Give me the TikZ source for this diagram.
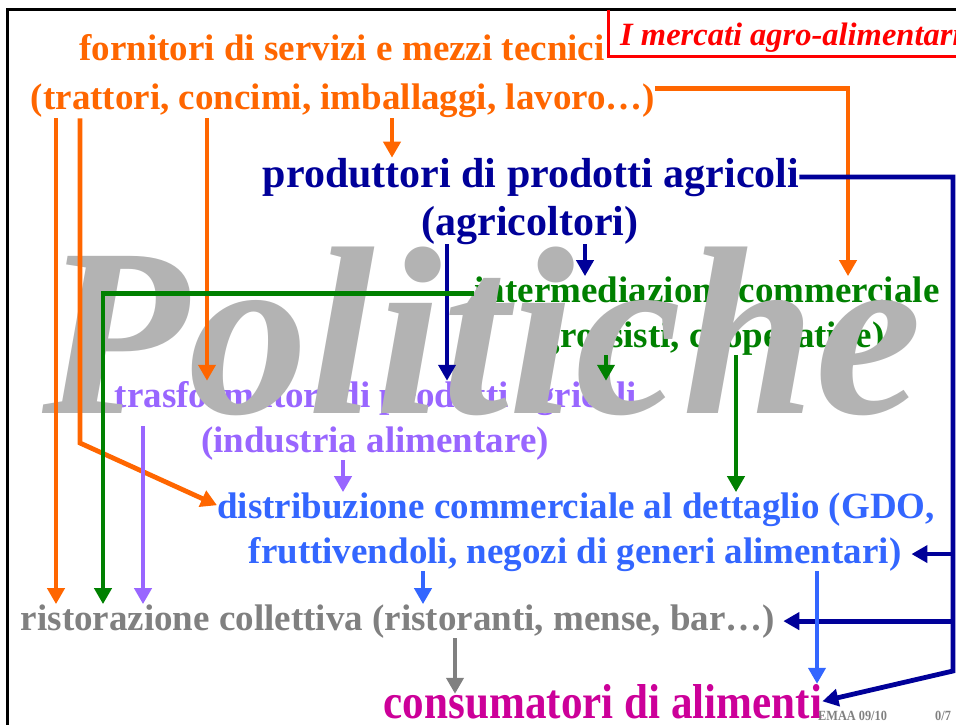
\documentclass[tikz,border=0pt]{standalone}
\usepackage{fontspec}
\setmainfont{Liberation Serif}
\newfontfamily\narrowserif[FakeStretch=0.88]{Liberation Serif}
\usetikzlibrary{arrows.meta}
\definecolor{fornorange}{HTML}{FF6600}
\definecolor{prodnavy}{HTML}{000099}
\definecolor{intergreen}{HTML}{008000}
\definecolor{trasfpurple}{HTML}{9966FF}
\definecolor{distrblue}{HTML}{3366FF}
\definecolor{ristgray}{HTML}{808080}
\definecolor{consmagenta}{HTML}{CC0099}
\definecolor{watergray}{HTML}{B3B3B3}

\begin{document}
\begin{tikzpicture}[x=1pt,y=-1pt,
        txt/.style={anchor=base,inner sep=0pt,font=\bfseries\fontsize{37}{44}\selectfont},
        bigtxt/.style={anchor=base,inner sep=0pt,font=\bfseries\fontsize{42}{48}\selectfont},
        flow/.style={line width=4.8pt,-{Triangle[length=16pt,width=17pt]}}]
        \useasboundingbox (0,0) rectangle (956,725);
        \clip (0,0) rectangle (956,725);
        % draw the frame of the slide
        \draw[line width=3pt] (7,730) -- (7,10) -- (960,10);
        \draw[red,line width=3pt] (608,10) -- (608,57) -- (960,57);
        \node[anchor=base west,inner sep=0pt,red,font=\bfseries\itshape\fontsize{32.5}{36}\selectfont] (title) at (620,46) {I mercati agro-alimentari};
        % draw nodes for the actors
        \node[txt,fornorange] (forn1) at (342,61) {fornitori di servizi e mezzi tecnici};
        \node[txt,fornorange] (forn2) at (343,110) {(trattori, concimi, imballaggi, lavoro\ldots)};
        \node[bigtxt,prodnavy] (prod1) at (531,187) {produttori di prodotti agricoli};
        \node[bigtxt,prodnavy] (prod2) at (530,235) {(agricoltori)};
        \node[txt,intergreen] (inter1) at (707,302) {intermediazione commerciale};
        \node[txt,intergreen] (inter2) at (707,347) {(grossisti, cooperative)};
        \node[txt,trasfpurple] (trasf1) at (376,407) {trasformatori di prodotti agricoli};
        \node[txt,trasfpurple] (trasf2) at (375,452) {(industria alimentare)};
        \node[txt,distrblue] (distr1) at (576,518) {distribuzione commerciale al dettaglio (GDO,};
        \node[txt,distrblue] (distr2) at (575,563) {fruttivendoli, negozi di generi alimentari)};
        \node[txt,ristgray] (rist) at (398,630) {ristorazione collettiva (ristoranti, mense, bar\ldots)};
        \node[anchor=base,inner sep=0pt,consmagenta,font=\narrowserif\bfseries\fontsize{49}{52}\selectfont] (cons) at (603,718) {consumatori di alimenti};
        \node[anchor=base west,inner sep=0pt,ristgray,font=\narrowserif\bfseries\fontsize{14}{14}\selectfont] (foot) at (818,720) {EMAA 09/10};
        \node[anchor=base west,inner sep=0pt,ristgray,font=\narrowserif\bfseries\fontsize{14}{14}\selectfont] (page) at (935,720) {0/7};
        % watermark over the texts
        \node[anchor=base west,inner sep=0pt,watergray,font=\bfseries\itshape\fontsize{240}{240}\selectfont] (pol) at (42,413) {Politiche};
        % draw arrows from the suppliers
        \draw[flow,fornorange] (forn2.south -| 56,0) -- (rist.north -| 56,0);
        \draw[flow,fornorange] (forn2.south -| 80,0) -- (80,443) -- ([yshift=4pt]distr1.west);
        \draw[flow,fornorange] (forn2.south -| 207,0) -- (trasf1.north -| 207,0);
        \draw[flow,fornorange] (forn2.south -| 392,0) -- (prod1.north -| 392,0);
        \draw[flow,fornorange] ([yshift=-4pt]forn2.north east) -| (inter1.north -| 848,0);
        % draw arrows from the farmers
        \draw[flow,prodnavy] (prod1.east) -| (953,671) -- (cons.east);
        \draw[flow,prodnavy] (distr2.east -| 953,0) -- ([xshift=10pt]distr2.east);
        \draw[flow,prodnavy] (rist.east -| 953,0) -- ([xshift=8pt]rist.east);
        \draw[flow,prodnavy] (prod2.south -| 447,0) -- (trasf1.north -| 447,0);
        \draw[flow,prodnavy] (prod2.south -| 585,0) -- (inter1.north -| 585,0);
        % draw arrows from the wholesalers
        \draw[flow,intergreen] ([yshift=-4pt]inter1.west) -| (rist.north -| 103,0);
        \draw[flow,intergreen] (inter2.south -| 606,0) -- (trasf1.north -| 606,0);
        \draw[flow,intergreen] (inter2.south -| 736,0) -- (distr1.north -| 736,0);
        % draw arrows from the food industry
        \draw[flow,trasfpurple] (trasf2.north -| 143,0) -- (rist.north -| 143,0);
        \draw[flow,trasfpurple] (trasf2.south -| 343,0) -- (distr1.north -| 343,0);
        % draw arrows from the retail and the catering
        \draw[flow,distrblue] (distr2.south -| 423,0) -- (rist.north -| 423,0);
        \draw[flow,distrblue] (distr2.south -| 817,0) -- (cons.north -| 817,0);
        \draw[flow,ristgray] (rist.south -| 455,0) -- ([yshift=-10pt]cons.north -| 455,0);
\end{tikzpicture}
\end{document}
